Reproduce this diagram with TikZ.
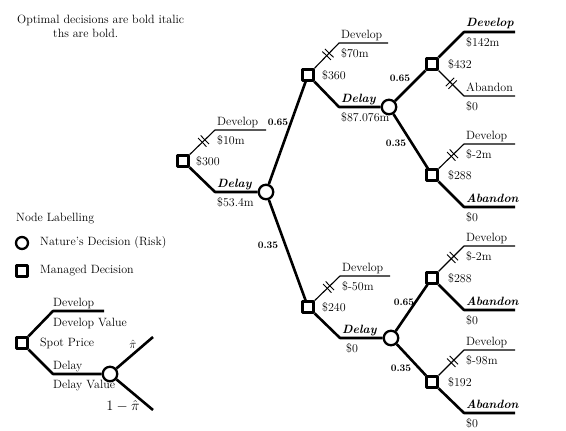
\documentclass[tikz,border=0pt]{standalone}
\usepackage{fontspec}
\usetikzlibrary{calc}
\tikzset{
  dec/.style={draw, rectangle, line width=2.2pt, minimum size=11pt, inner sep=0pt, fill=white},
  nat/.style={draw, circle, line width=2.3pt, minimum size=14.5pt, inner sep=0pt, fill=white},
  opt/.style={line width=2.6pt},
  sub/.style={line width=1.1pt},
  lab/.style={anchor=base west, inner sep=0pt},
  val/.style={anchor=west, inner sep=0pt},
  prob/.style={font=\fontsize{10}{12}\selectfont\bfseries, inner sep=0pt},
  hash/.pic={\draw[line width=0.9pt] (-1.8,-6) -- (-1.8,6) (1.8,-6) -- (1.8,6);}
}
\newcommand\ablab[3]{\node[lab] (#1) at ([shift={(2,-5)}]#2) {#3};}
\newcommand\bllab[3]{\node[lab] (#1) at ([shift={(2,14)}]#2) {#3};}
\newcommand\bi[1]{\textbf{\textit{#1}}}
\begin{document}
\begin{tikzpicture}[x=1pt, y=-1pt, font=\fontsize{12}{14}\selectfont, line join=round]
\useasboundingbox (0,0) rectangle (566,431);

% ---------- header ----------
\node[anchor=west, inner sep=0pt] (h1) at (17,20) {Optimal decisions are bold italic};
\node[anchor=west, inner sep=0pt] (h2) at (53,33) {ths are bold.};

% ---------- decision nodes ----------
\node[dec] (A) at (183,161) {};
\node[nat] (B) at (266,192) {};
\node[dec] (C) at (308,75) {};
\node[nat] (E) at (389,107) {};
\node[dec] (D) at (308,307) {};
\node[nat] (H) at (391,338) {};
\node[dec] (F) at (432,64) {};
\node[dec] (G) at (432,175) {};
\node[dec] (I) at (432,278) {};
\node[dec] (J) at (432,382) {};

% ---------- corners and ends ----------
\coordinate (Au) at (215,130); \coordinate (Aue) at (266,130);
\coordinate (Ad) at (215,192);
\coordinate (Cu) at (339,43);  \coordinate (Cue) at (388,43);
\coordinate (Cd) at (339,107);
\coordinate (Du) at (340,276); \coordinate (Due) at (390,276);
\coordinate (Dd) at (340,338);
\coordinate (Fu) at (464,32);  \coordinate (Fue) at (515,32);
\coordinate (Fd) at (464,96);  \coordinate (Fde) at (515,96);
\coordinate (Gu) at (464,144); \coordinate (Gue) at (515,144);
\coordinate (Gd) at (464,207); \coordinate (Gde) at (515,207);
\coordinate (Iu) at (464,246); \coordinate (Iue) at (515,246);
\coordinate (Id) at (464,310); \coordinate (Ide) at (515,310);
\coordinate (Ju) at (464,350); \coordinate (Jue) at (515,350);
\coordinate (Jd) at (464,413); \coordinate (Jde) at (515,413);

% ---------- connectors ----------
\draw[sub] (A) -- pic[pos=.55, sloped]{hash} (Au) -- (Aue);
\draw[opt] (A) -- (Ad) -- (B);
\draw[opt] (B) -- (C);
\draw[opt] (B) -- (D);
\draw[sub] (C) -- pic[pos=.55, sloped]{hash} (Cu) -- (Cue);
\draw[opt] (C) -- (Cd) -- (E);
\draw[sub] (D) -- pic[pos=.55, sloped]{hash} (Du) -- (Due);
\draw[opt] (D) -- (Dd) -- (H);
\draw[opt] (E) -- (F);
\draw[opt] (E) -- (G);
\draw[opt] (H) -- (I);
\draw[opt] (H) -- (J);
\draw[opt] (F) -- (Fu) -- (Fue);
\draw[sub] (F) -- pic[pos=.5, sloped]{hash} (Fd) -- (Fde);
\draw[sub] (G) -- pic[pos=.55, sloped]{hash} (Gu) -- (Gue);
\draw[opt] (G) -- (Gd) -- (Gde);
\draw[sub] (I) -- pic[pos=.55, sloped]{hash} (Iu) -- (Iue);
\draw[opt] (I) -- (Id) -- (Ide);
\draw[sub] (J) -- pic[pos=.55, sloped]{hash} (Ju) -- (Jue);
\draw[opt] (J) -- (Jd) -- (Jde);

% ---------- branch labels ----------
\ablab{lA1}{Au}{Develop}   \bllab{lA2}{Au}{\$10m}
\ablab{lA3}{Ad}{\bi{Delay}} \bllab{lA4}{Ad}{\$53.4m}
\ablab{lC1}{Cu}{Develop}   \bllab{lC2}{Cu}{\$70m}
\ablab{lC3}{Cd}{\bi{Delay}} \bllab{lC4}{Cd}{\$87.076m}
\ablab{lD1}{Du}{Develop}   \bllab{lD2}{Du}{\$-50m}
\ablab{lD3}{Dd}{\bi{Delay}} \node[lab] (lD4) at ([shift={(6,14)}]Dd) {\$0};
\ablab{lF1}{Fu}{\bi{Develop}} \bllab{lF2}{Fu}{\$142m}
\ablab{lF3}{Fd}{Abandon}   \bllab{lF4}{Fd}{\$0}
\ablab{lG1}{Gu}{Develop}   \bllab{lG2}{Gu}{\$-2m}
\ablab{lG3}{Gd}{\bi{Abandon}} \bllab{lG4}{Gd}{\$0}
\ablab{lI1}{Iu}{Develop}   \bllab{lI2}{Iu}{\$-2m}
\ablab{lI3}{Id}{\bi{Abandon}} \bllab{lI4}{Id}{\$0}
\ablab{lJ1}{Ju}{Develop}   \bllab{lJ2}{Ju}{\$-98m}
\ablab{lJ3}{Jd}{\bi{Abandon}} \bllab{lJ4}{Jd}{\$0}

% ---------- values at decisions ----------
\node[val] (vA) at ([shift={(13,0)}]A) {\$300};
\node[val] (vC) at ([shift={(14,0)}]C) {\$360};
\node[val] (vD) at ([shift={(14,0)}]D) {\$240};
\node[val] (vF) at ([shift={(16,0)}]F) {\$432};
\node[val] (vG) at ([shift={(16,0)}]G) {\$288};
\node[val] (vI) at ([shift={(16,0)}]I) {\$288};
\node[val] (vJ) at ([shift={(16,0)}]J) {\$192};

% ---------- probabilities ----------
\node[prob] (pB1) at (278,122) {0.65};
\node[prob] (pB2) at (268,245) {0.35};
\node[prob] (pE1) at (400,78) {0.65};
\node[prob] (pE2) at (396,143) {0.35};
\node[prob] (pH1) at (404,302) {0.65};
\node[prob] (pH2) at (401,368) {0.35};

% ---------- legend ----------
\node[anchor=west, inner sep=0pt] (lg0) at (16,219) {Node Labelling};
\node[nat, minimum size=12pt] (lgc) at (22,243) {};
\node[anchor=west, inner sep=0pt] (lg1) at (40,243) {Nature's Decision (Risk)};
\node[dec] (lgs) at (22,271) {};
\node[anchor=west, inner sep=0pt] (lg2) at (40,271) {Managed Decision};

\node[dec] (L) at (22,343) {};
\node[nat] (LC) at (110,374) {};
\coordinate (Lu) at (53,311); \coordinate (Lue) at (104,311);
\coordinate (Ld) at (53,374);
\coordinate (Lcu) at (153,337); \coordinate (Lcd) at (153,410);
\draw[opt] (L) -- (Lu) -- (Lue);
\draw[opt] (L) -- (Ld) -- (LC);
\draw[opt] (LC) -- (Lcu);
\draw[opt] (LC) -- (Lcd);
\node[lab] (lL1) at ([shift={(0,-5)}]Lu) {Develop};
\node[lab] (lL2) at ([shift={(0,15)}]Lu) {Develop Value};
\node[anchor=west, inner sep=0pt] (lL3) at (40,343) {Spot Price};
\node[lab] (lL4) at ([shift={(0,-5)}]Ld) {Delay};
\node[lab] (lL5) at ([shift={(0,14)}]Ld) {Delay Value};
\node[inner sep=0pt, font=\fontsize{13}{15}\selectfont] (pi1) at (133,344) {$\hat{\pi}$};
\node[inner sep=0pt, font=\fontsize{14}{16}\selectfont] (pi2) at (123,406) {$1-\hat{\pi}$};
\end{tikzpicture}
\end{document}
